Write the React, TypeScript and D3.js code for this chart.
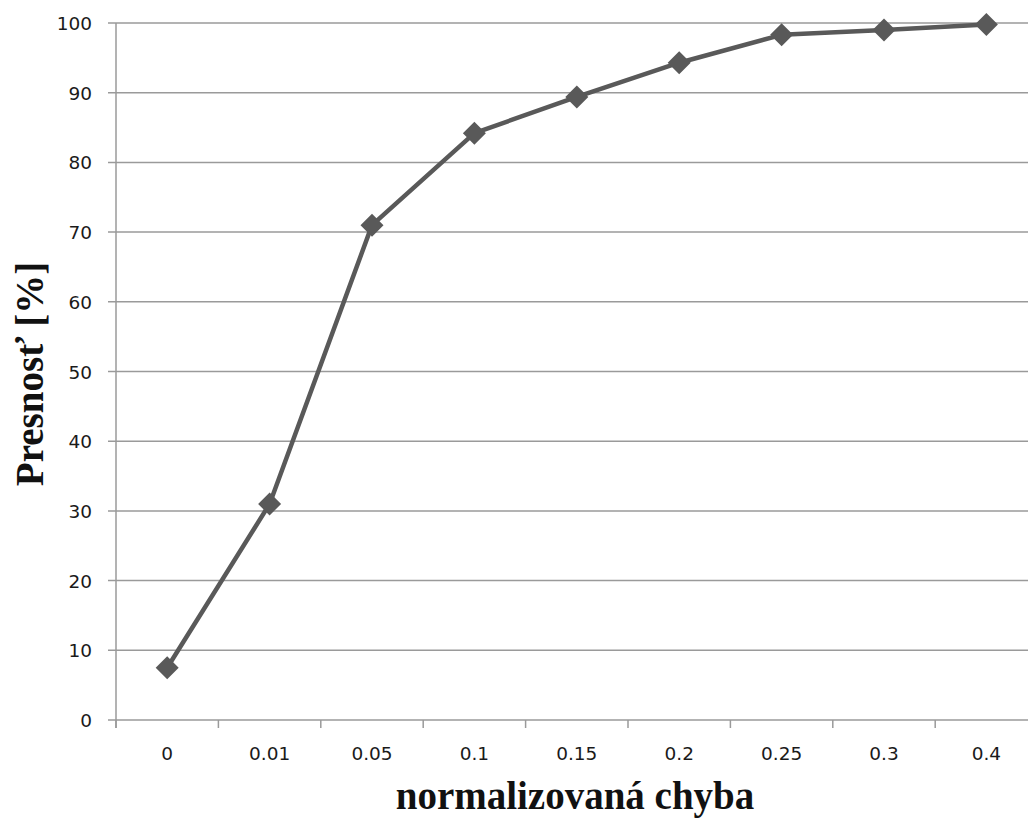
import React from "react";
import * as d3 from "d3";

const categories = ["0", "0.01", "0.05", "0.1", "0.15", "0.2", "0.25", "0.3", "0.4"];
const accuracy = [7.5, 31.0, 71.0, 84.2, 89.4, 94.3, 98.3, 99.0, 99.8];
const yTicks = [0, 10, 20, 30, 40, 50, 60, 70, 80, 90, 100];
const xTitle = "normalizovaná chyba";
const yTitle = "Presnosť [%]";

export default function App() {
  const W = 1028, H = 821;
  const left = 116, top = 23, bottom = 720;
  const plotRight = left + 9 * 102.4;
  const x = d3.scaleBand<string>().domain(categories).range([left, plotRight]).paddingInner(0).paddingOuter(0);
  const y = d3.scaleLinear().domain([0, 100]).range([bottom, top]);
  const line = d3.line<number>().x((_, i) => (x(categories[i]) as number) + x.bandwidth() / 2).y((d) => y(d));
  const grid = "#9a9a9a";
  const labelFont = "'DejaVu Sans', Verdana, sans-serif";
  const serif = "'Liberation Serif', 'Times New Roman', serif";
  const tickEdges = categories.map((c) => x(c) as number).concat([plotRight]);
  return (
    <svg width={W} height={H} style={{ position: "absolute", left: 0, top: 0, background: "#fff" }}>
      <rect x={0} y={0} width={W} height={H} fill="#fff" />
      {yTicks.map((t) => (
        <g key={t}>
          <line x1={108} x2={W} y1={y(t)} y2={y(t)} stroke={grid} strokeWidth={1.5} />
          <text x={92} y={y(t) + 7} textAnchor="end" fontFamily={labelFont} fontSize={18.5} fill="#1a1a1a">{t}</text>
        </g>
      ))}
      <line x1={left} x2={left} y1={top} y2={bottom + 8} stroke={grid} strokeWidth={1.5} />
      {tickEdges.map((e, i) => (
        <line key={i} x1={e} x2={e} y1={bottom} y2={bottom + 8} stroke={grid} strokeWidth={1.5} />
      ))}
      {categories.map((c) => (
        <text key={c} x={(x(c) as number) + x.bandwidth() / 2} y={760} textAnchor="middle" fontFamily={labelFont} fontSize={18.5} fill="#1a1a1a">{c}</text>
      ))}
      <path d={line(accuracy) as string} fill="none" stroke="#595959" strokeWidth={4.5} strokeLinejoin="round" />
      {accuracy.map((v, i) => {
        const cx = (x(categories[i]) as number) + x.bandwidth() / 2;
        const cy = y(v);
        const r = 11.5;
        return <path key={i} d={`M${cx},${cy - r}L${cx + r},${cy}L${cx},${cy + r}L${cx - r},${cy}Z`} fill="#595959" />;
      })}
      <text x={575} y={809} textAnchor="middle" fontFamily={serif} fontWeight="bold" fontSize={39} fill="#111">{xTitle}</text>
      <text transform={`translate(43,374) rotate(-90)`} textAnchor="middle" fontFamily={serif} fontWeight="bold" fontSize={39} fill="#111">{yTitle}</text>
    </svg>
  );
}
